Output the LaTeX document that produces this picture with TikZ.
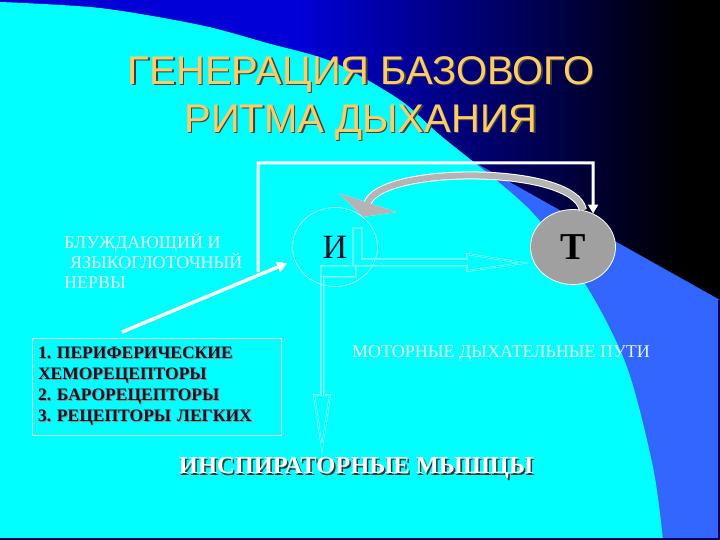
\documentclass[tikz,border=0pt]{standalone}
\usepackage{fontspec}
\setmainfont{Liberation Serif}
\newfontfamily\titlefont{Liberation Sans}
\usepackage{tikz}
\usetikzlibrary{positioning,shapes.geometric,arrows.meta}
\frenchspacing

\definecolor{bgcyan}{RGB}{0,255,255}
\definecolor{bandblue}{RGB}{51,102,255}
\definecolor{deepblue}{RGB}{0,0,215}
\definecolor{navyline}{RGB}{0,0,90}
\definecolor{titlegold}{RGB}{255,204,102}
\definecolor{arcgray}{RGB}{180,180,180}
\definecolor{tgray}{RGB}{160,160,160}
\definecolor{paleline}{RGB}{200,255,255}
\definecolor{inktext}{RGB}{10,20,40}

\newcommand{\shtext}[3]{\makebox[0pt][l]{\hspace{#3}\raisebox{-#3}{\color{#2}#1}}#1}

\begin{document}
\begin{tikzpicture}[x=1pt,y=-1pt,node distance=238pt,on grid,
    inode/.style={ellipse,draw=paleline,line width=0.6pt,minimum width=85pt,
      minimum height=79pt,inner sep=0pt,text=inktext,font=\fontsize{34}{34}\selectfont},
    tnode/.style={ellipse,fill=tgray,draw=white,line width=0.8pt,minimum width=85pt,
      minimum height=75pt,inner sep=0pt,text=black,font=\bfseries\fontsize{38}{38}\selectfont},
    recbox/.style={draw=paleline,line width=0.5pt,minimum width=249pt,minimum height=97pt,
      text width=237pt,inner xsep=6pt,align=left,text=inktext,
      font=\bfseries\fontsize{17.5}{21}\selectfont},
    palelabel/.style={inner sep=0pt,text=white!88!cyan,font=\fontsize{18}{20}\selectfont},
    fbline/.style={draw=white,line width=3pt,-{Triangle[width=10pt,length=9pt]}},
    nervearrow/.style={draw=white,line width=3.5pt,-{Triangle[width=11pt,length=10pt]},shorten >=8pt},
    arcarrow/.style={draw=arcgray,line width=6pt,-{Triangle[width=60pt,length=15pt]},
      preaction={draw=white,line width=8pt,-{Triangle[width=60pt,length=15pt]}}},
    blockarrow/.style={draw=paleline,line width=0.4pt,double=bgcyan,double distance=1pt}]

   \useasboundingbox (0,0) rectangle (720,540);
   \fill[deepblue] (0,0) rectangle (300,540);
   \shade[left color=deepblue,right color=black] (300,0) rectangle (680,540);
   \fill[black] (680,0) rectangle (720,540);
   \fill[bandblue] (440,143) -- (720,300) -- (720,540) -- (560,540) -- cycle;
   \fill[bgcyan] plot[smooth] coordinates {(0,2) (100,8) (200,25) (267,43) (333,62)
      (400,100) (440,135) (530,210) (587,287) (627,367) (653,467) (663,540)}
      -- (0,540) -- cycle;
   \draw[navyline,line width=2pt] (0,539) -- (719,539) -- (719,300);

   \node[align=center,text=titlegold,font=\titlefont\fontsize{40}{48}\selectfont] (title) at (361,99)
      {\shtext{ГЕНЕРАЦИЯ БАЗОВОГО}{black!75}{1.5pt}\\\shtext{РИТМА ДЫХАНИЯ}{black!75}{1.5pt}};

   \node[inode] (I) at (335,247) {И};
   \node[tnode] (T) [right=of I] {Т};

   \node[palelabel,anchor=west,align=left] (nerves) at (64,261)
      {БЛУЖДАЮЩИЙ И\\\hspace*{6pt}ЯЗЫКОГЛОТОЧНЫЙ\\НЕРВЫ};
   \node[recbox] (rec) at (156.5,386.5)
      {\shtext{1. ПЕРИФЕРИЧЕСКИЕ}{black!45}{1pt}\\\shtext{ХЕМОРЕЦЕПТОРЫ}{black!45}{1pt}\\
       \shtext{2. БАРОРЕЦЕПТОРЫ}{black!45}{1pt}\\\shtext{3. РЕЦЕПТОРЫ ЛЕГКИХ}{black!45}{1pt}};
   \node[palelabel] (motor) at (501,353) {МОТОРНЫЕ ДЫХАТЕЛЬНЫЕ ПУТИ};
   \node[text=white,font=\bfseries\fontsize{24.5}{24.5}\selectfont] (musc) at (356,469)
      {\shtext{ИНСПИРАТОРНЫЕ МЫШЦЫ}{black!80}{1.5pt}};

   \coordinate (fbStart) at (258,272);
   \coordinate (fbCorner) at (593,163);
   \coordinate (recTail) at (122,332);

   \draw[blockarrow] (353,228) -- (362,228) -- (362,259) -- (467,259) -- (467,254)
      -- (523,263) -- (467,271) -- (467,266) -- (353,266) -- cycle;
   \draw[blockarrow] (321,266) -- (356,266) -- (356,277) -- (324,277) -- (324,395)
      -- (330,395) -- (322,448) -- (314,395) -- (321,395) -- cycle;

   \draw[fbline] (fbStart) |- (fbCorner) -- (T.59);
   \draw[arcarrow] (T.75) .. controls (575,165) and (380,165) .. (I.47);
   \draw[nervearrow] (recTail) -- (I.198);
\end{tikzpicture}
\end{document}
